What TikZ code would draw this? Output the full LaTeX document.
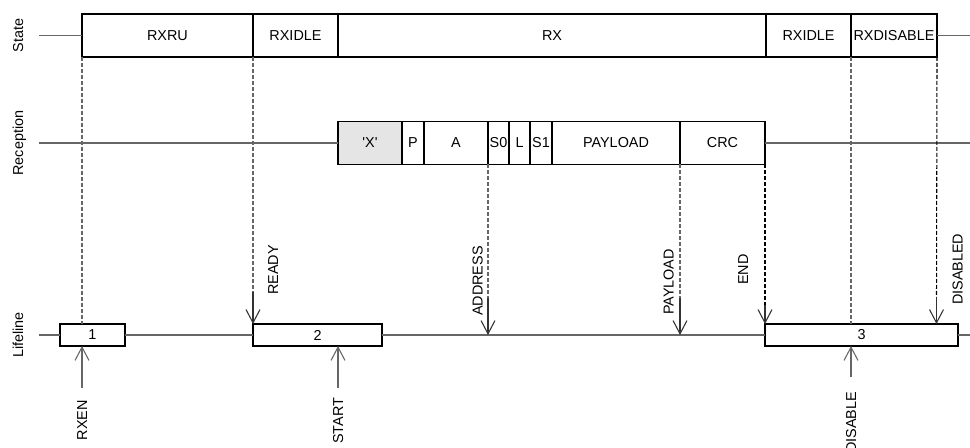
\documentclass[tikz,border=0pt]{standalone}
\usepackage{fontspec}
\setmainfont{Liberation Sans}
\usetikzlibrary{positioning, arrows.meta}

\begin{document}
\begin{tikzpicture}[
    x=0.75pt, y=0.75pt,
    font=\fontsize{10.8}{12}\selectfont,
    every node/.style={inner sep=0pt, outer sep=0pt},
    wd/.style={minimum width=#1*0.75pt},
    stbox/.style={rectangle, draw=black, line width=0.8pt, fill=white,
                  minimum height=32.25pt, align=center},
    rxbox/.style={stbox},
    lfbox/.style={rectangle, draw=black, line width=0.8pt, fill=white,
                  minimum height=16.5pt, align=center},
    row/.style={rotate=90, anchor=base},
    lbl/.style={rotate=90},
    tline/.style={draw=black!60, line width=1.2pt},
    dline/.style={draw=black!60, line width=0.8pt, dash pattern=on 3pt off 1.5pt},
    bdline/.style={draw=black, line width=0.8pt, dash pattern=on 3pt off 1.5pt},
    dnarr/.style={-{Straight Barb[length=10pt, width=10.5pt]}, draw=black!80, line width=0.8pt},
    uparr/.style={-{Straight Barb[length=10pt, width=10.5pt]}, draw=black!60, line width=0.8pt}
]
\useasboundingbox (0,0) rectangle (970,448);

% row names
\node[row] (rowst) at (23,412.5) {State};
\node[row] (rowrx) at (23,305) {Reception};
\node[row] (rowlf) at (23,113) {Lifeline};

% state row
\node[stbox, wd=171, anchor=west] (rxru) at (82,412.5) {RXRU};
\node[stbox, wd=85, right=0pt of rxru] (rxidle) {RXIDLE};
\node[stbox, wd=428, right=0pt of rxidle] (rx) {RX};
\node[stbox, wd=85, right=0pt of rx] (rxidleb) {RXIDLE};
\node[stbox, wd=86, right=0pt of rxidleb] (rxdis) {RXDISABLE};

% reception row
\node[rxbox, wd=64, fill=black!10, anchor=west] (xfld) at (338,305)
    {\textquotesingle X\textquotesingle};
\node[rxbox, wd=22, right=0pt of xfld] (pfld) {P};
\node[rxbox, wd=64, right=0pt of pfld] (afld) {A};
\node[rxbox, wd=21, right=0pt of afld] (szfld) {S0};
\node[rxbox, wd=21, right=0pt of szfld] (lfld) {L};
\node[rxbox, wd=22, right=0pt of lfld] (sofld) {S1};
\node[rxbox, wd=128, right=0pt of sofld] (pldfld) {PAYLOAD};
\node[rxbox, wd=85, right=0pt of pldfld] (crcfld) {CRC};

% lifeline row
\node[lfbox, wd=65, anchor=west] (one) at (60,113) {1};
\node[lfbox, wd=129, anchor=west] (two) at (253,113) {2};
\node[lfbox, wd=193, anchor=west] (three) at (765,113) {3};

% free ends
\coordinate (stl) at (39,412.5);
\coordinate (str) at (970,412.5);
\coordinate (rxl) at (39,305);
\coordinate (rxr) at (970,305);
\coordinate (lfl) at (39,113);
\coordinate (lfr) at (970,113);

% time lines
\draw[tline] (stl) -- (rxru.west);
\draw[tline] (rxdis.east) -- (str);
\draw[tline] (rxl) -- (xfld.west);
\draw[tline] (crcfld.east) -- (rxr);
\draw[tline] (lfl) -- (one.west);
\draw[tline] (one.east) -- (two.west);
\draw[tline] (two.east) -- (three.west);
\draw[tline] (three.east) -- (lfr);

% events
\coordinate (rdy) at (253,156);
\coordinate (adr) at (488,150);
\coordinate (pld) at (680,150);
\coordinate (endc) at (765,143);
\coordinate (dsd) at (936.5,151);
\coordinate (rxen) at (82,60);
\coordinate (start) at (338,60);
\coordinate (dis) at (851,71);

\draw[dline] (rxru.south west) -- (rxru.south west |- one.north);
\draw[dline] (rxidle.south west) -- (rdy);
\draw[dline] (rxdis.south west) -- (rxdis.south west |- three.north);
\draw[bdline] (rxdis.south east) -- (dsd);
\draw[dline] (szfld.south west) -- (adr);
\draw[dline] (crcfld.south west) -- (pld);
\draw[bdline] (crcfld.south east) -- (endc);

\draw[dnarr] (rdy) -- (two.north west);
\draw[dnarr] (adr) -- (adr |- lfl);
\draw[dnarr] (pld) -- (pld |- lfl);
\draw[dnarr] (endc) -- (three.north west);
\draw[dnarr] (dsd) -- (dsd |- three.north);

\draw[uparr] (rxen) -- (rxen |- one.south);
\draw[uparr] (start) -- (start |- two.south);
\draw[uparr] (dis) -- (dis |- three.south);

% event names
\node[lbl, anchor=base west] (rdylbl) at (278,153) {READY};
\node[lbl, anchor=base west] (adrlbl) at (482.5,132) {ADDRESS};
\node[lbl, anchor=base west] (pldlbl) at (673.5,133) {PAYLOAD};
\node[lbl, anchor=base west] (endlbl) at (748,163) {END};
\node[lbl, anchor=base west] (dsdlbl) at (962.5,143) {DISABLED};
\node[lbl, anchor=base east] (rxenlbl) at (87,48) {RXEN};
\node[lbl, anchor=base east] (startlbl) at (343,50) {START};
\node[lbl, anchor=base east] (dislbl) at (856,56) {DISABLE};
\end{tikzpicture}
\end{document}
